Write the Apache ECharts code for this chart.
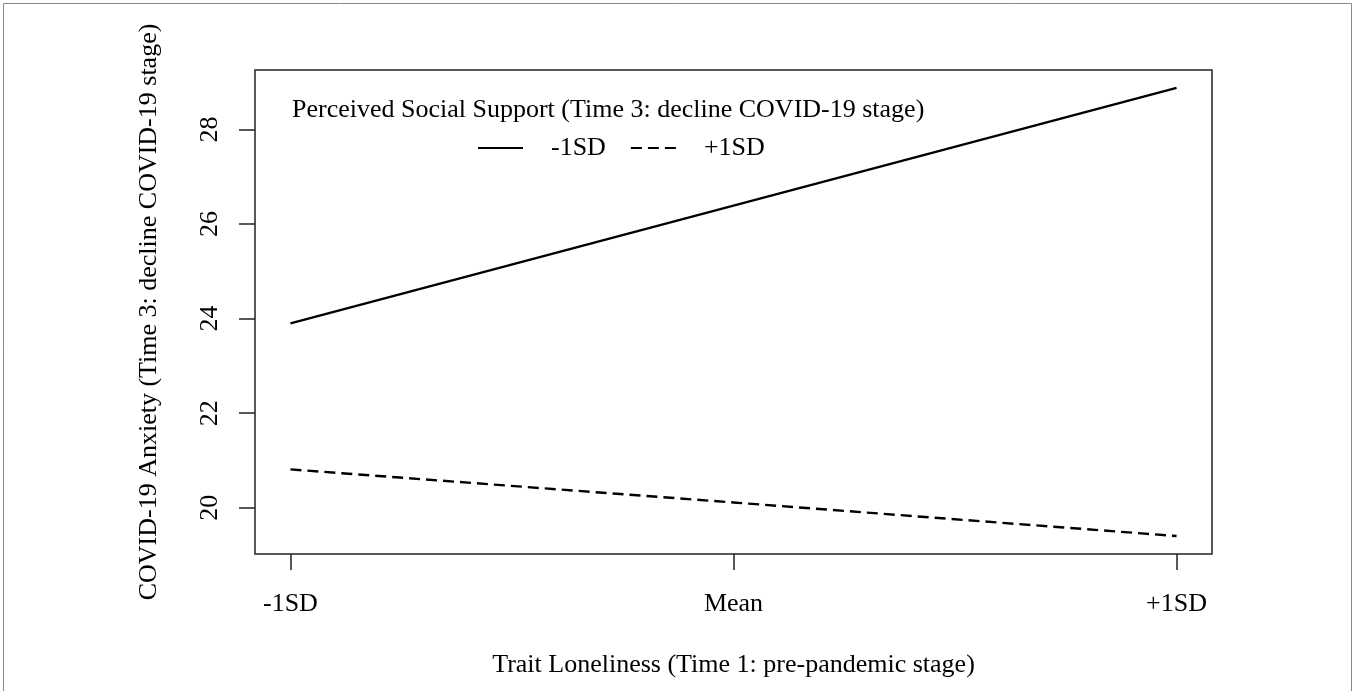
<!DOCTYPE html>
<html>
<head>
<meta charset="utf-8">
<script src="https://cdn.jsdelivr.net/npm/echarts@6/dist/echarts.min.js"></script>
<style>
  html, body { margin: 0; padding: 0; background: #fff; }
  #chart { width: 1355px; height: 691px; }
</style>
</head>
<body>
<div id="chart"></div>
<script>
  // x positions of the three levels and their labels
  const xCodes = [-1, 0, 1]
  const xLabels = ['-1SD', 'Mean', '+1SD']
  const yTicks = [20, 22, 24, 26, 28]

  // simple slopes: perceived social support -1SD / +1SD
  const lowSupport = [23.9, 26.39, 28.88]
  const highSupport = [20.81, 20.11, 19.4]

  const font = 'Liberation Serif'
  const fs = 26

  const chart = echarts.init(document.getElementById('chart'))

  const pairs = vals => xCodes.map((x, i) => [x, vals[i]])

  chart.setOption({
    animation: false,
    textStyle: { fontFamily: font, color: '#000' },
    grid: {
      left: 255,
      right: 143,
      top: 70,
      bottom: 137,
      show: true,
      borderColor: '#222',
      borderWidth: 1.5,
      backgroundColor: 'transparent'
    },
    title: {
      text: 'Perceived Social Support (Time 3: decline COVID-19 stage)',
      left: 292,
      top: 97,
      padding: 0,
      textStyle: { fontFamily: font, fontSize: fs, fontWeight: 'normal', color: '#000' }
    },
    legend: {
      left: 477,
      top: 135,
      padding: 0,
      itemWidth: 45,
      itemHeight: 14,
      itemGap: 24,
      data: ['-1SD', '+1SD'],
      itemStyle: { opacity: 0 },
      textStyle: { fontFamily: font, fontSize: fs, color: '#000', padding: [0, 0, 0, 23] }
    },
    xAxis: {
      type: 'value',
      min: -1.08,
      max: 1.08,
      name: 'Trait Loneliness (Time 1: pre-pandemic stage)',
      nameLocation: 'middle',
      nameGap: 98,
      nameTextStyle: { fontFamily: font, fontSize: fs, color: '#000' },
      axisLine: { show: false, onZero: false },
      splitLine: { show: false },
      axisTick: {
        show: true,
        length: 16,
        customValues: xCodes,
        lineStyle: { color: '#222', width: 1.5 }
      },
      axisLabel: {
        customValues: xCodes,
        margin: 37,
        fontFamily: font,
        fontSize: fs,
        color: '#000',
        formatter: v => xLabels[xCodes.indexOf(v)]
      }
    },
    yAxis: {
      type: 'value',
      min: 19.02,
      max: 29.26,
      name: 'COVID-19 Anxiety (Time 3: decline COVID-19 stage)',
      nameLocation: 'middle',
      nameGap: 93,
      nameRotate: 90,
      nameTextStyle: { fontFamily: font, fontSize: fs, color: '#000' },
      axisLine: { show: false, onZero: false },
      splitLine: { show: false },
      axisTick: {
        show: true,
        length: 16,
        customValues: yTicks,
        lineStyle: { color: '#222', width: 1.5 }
      },
      axisLabel: {
        customValues: yTicks,
        rotate: 90,
        margin: 32,
        fontFamily: font,
        fontSize: fs,
        color: '#000'
      }
    },
    series: [
      {
        name: '-1SD',
        type: 'line',
        data: pairs(lowSupport),
        symbol: 'none',
        lineStyle: { color: '#000', width: 2.4, type: 'solid' },
        itemStyle: { color: '#000' }
      },
      {
        name: '+1SD',
        type: 'line',
        data: pairs(highSupport),
        symbol: 'none',
        lineStyle: { color: '#000', width: 2.4, type: [11, 6] },
        itemStyle: { color: '#000' }
      }
    ],
    graphic: [
      {
        type: 'rect',
        shape: { x: 3.5, y: 3.5, width: 1348, height: 720 },
        style: { fill: 'none', stroke: '#888', lineWidth: 1 },
        silent: true
      }
    ]
  })
</script>
</body>
</html>
